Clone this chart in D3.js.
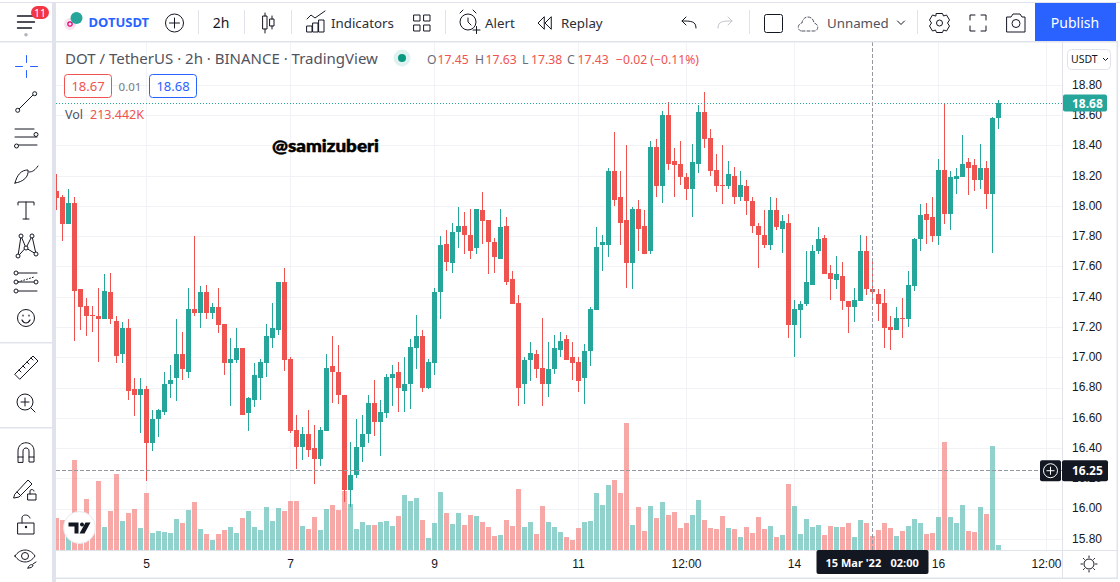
<!DOCTYPE html>
<html lang="en">
<head>
<meta charset="utf-8">
<title>DOTUSDT 2h</title>
<script src="https://cdn.jsdelivr.net/npm/d3@7/dist/d3.min.js"></script>
<style>
  html, body { margin: 0; padding: 0; background: #fff; overflow: hidden; }
  svg { display: block; font-family: "Noto Sans", "Open Sans", sans-serif; }
</style>
</head>
<body>
<svg id="chart" width="1120" height="582" viewBox="0 0 1120 582"></svg>
<script>
// DOT / TetherUS, 2h candles, BINANCE. One entry per candle.
const opens = [18.10,18.06,17.88,18.02,17.45,17.34,17.28,17.27,17.25,17.43,17.24,17.02,17.19,16.79,16.75,16.79,16.43,16.59,16.64,16.82,
16.86,17.02,16.90,17.32,17.29,17.43,17.29,17.33,17.22,16.96,16.98,17.06,16.63,16.72,16.86,16.96,17.13,17.18,17.50,16.99,
16.52,16.41,16.49,16.40,16.33,16.51,16.94,16.90,16.75,16.12,16.22,16.41,16.49,16.70,16.57,16.63,16.86,16.90,16.78,16.82,
17.06,17.14,16.80,16.96,17.43,17.75,17.62,17.83,17.87,17.81,17.72,17.97,17.91,17.76,17.65,17.87,17.52,17.36,16.82,16.98,
17.02,16.93,16.82,16.92,17.05,17.12,17.00,16.97,16.86,17.04,17.31,17.74,17.74,18.23,18.06,17.91,17.62,17.98,17.87,17.70,
18.39,18.13,18.60,18.30,18.28,18.19,18.11,18.28,18.62,18.45,18.24,18.14,18.13,18.20,18.06,18.13,18.03,17.87,17.81,17.74,
17.97,17.85,17.89,17.21,17.31,17.35,17.48,17.70,17.79,17.56,17.51,17.54,17.37,17.33,17.37,17.70,17.45,17.42,17.36,17.20,
17.18,17.26,17.25,17.47,17.78,17.95,17.93,17.80,18.24,17.95,18.18,18.19,18.29,18.27,18.17,18.25,18.08,18.58];
const highs = [18.21,18.07,18.11,18.06,17.45,17.39,17.34,17.46,17.55,17.56,17.27,17.23,17.25,16.86,16.86,16.81,16.65,16.66,16.90,16.95,
17.25,17.17,17.46,17.80,17.47,17.48,17.36,17.46,17.22,17.13,17.19,17.06,16.74,16.96,16.99,17.22,17.36,17.50,17.59,17.00,
16.62,16.54,16.65,16.55,16.54,17.02,17.14,17.08,16.75,16.44,16.59,16.62,16.75,16.85,16.72,16.89,16.95,16.97,17.00,17.12,
17.28,17.18,16.99,17.46,17.80,17.84,17.89,17.99,17.96,17.98,17.98,18.09,17.91,17.79,17.98,17.93,17.57,17.41,17.00,17.10,
17.05,17.26,17.10,17.15,17.17,17.15,17.10,17.00,17.09,17.33,17.86,17.81,18.25,18.49,18.23,18.40,17.99,18.04,17.97,18.43,
18.44,18.63,18.69,18.38,18.43,18.22,18.41,18.67,18.75,18.51,18.34,18.40,18.30,18.26,18.23,18.17,18.06,17.89,17.97,18.06,
18.05,17.94,17.95,17.38,17.37,17.70,17.74,17.86,17.81,17.61,17.67,17.63,17.37,17.46,17.81,17.80,17.63,17.45,17.45,17.27,
17.33,17.39,17.57,17.79,18.01,18.02,18.06,18.31,18.68,18.23,18.25,18.47,18.32,18.31,18.41,18.30,18.59,18.70];
const lows = [17.97,17.77,17.88,17.11,17.18,17.14,17.17,16.97,17.25,17.22,16.96,16.96,16.72,16.61,16.50,16.18,16.38,16.47,16.62,16.73,
16.71,16.85,16.86,17.27,17.19,17.25,17.25,17.16,16.88,16.68,16.96,16.62,16.51,16.67,16.72,16.87,17.06,17.15,16.91,16.50,
16.26,16.32,16.34,16.16,16.28,16.51,16.70,16.69,16.04,16.01,16.20,16.31,16.43,16.48,16.35,16.60,16.68,16.64,16.64,16.66,
16.92,16.77,16.79,16.88,17.25,17.57,17.56,17.72,17.68,17.65,17.68,17.75,17.55,17.56,17.65,17.48,17.35,16.68,16.69,16.84,
16.86,16.68,16.74,16.89,17.00,16.98,16.85,16.77,16.69,16.94,17.31,17.57,17.66,18.00,17.74,17.46,17.45,17.70,17.68,17.68,
18.06,18.02,18.24,18.06,18.14,18.04,17.93,18.22,18.38,18.20,18.09,18.01,18.11,18.01,18.03,17.94,17.82,17.59,17.72,17.71,
17.84,17.69,17.13,17.00,17.13,17.34,17.48,17.68,17.55,17.38,17.45,17.31,17.16,17.23,17.37,17.41,17.38,17.24,17.06,17.05,
17.18,17.13,17.20,17.44,17.70,17.75,17.76,17.74,17.88,17.84,18.08,18.19,18.07,18.10,18.11,17.98,17.69,18.51];
const closes = [18.05,17.88,18.02,17.44,17.33,17.27,17.27,17.25,17.44,17.25,17.01,17.19,16.78,16.75,16.79,16.43,16.59,16.65,16.82,16.85,
17.02,16.92,17.32,17.29,17.43,17.29,17.33,17.21,16.96,16.99,17.06,16.62,16.73,16.88,16.97,17.14,17.19,17.50,16.98,16.51,
16.41,16.49,16.39,16.33,16.52,16.93,16.90,16.75,16.12,16.22,16.41,16.49,16.70,16.57,16.64,16.87,16.89,16.80,16.82,17.07,
17.14,16.80,16.97,17.43,17.74,17.63,17.83,17.87,17.81,17.70,17.98,17.90,17.76,17.66,17.86,17.50,17.35,16.80,16.98,17.03,
16.92,16.82,16.92,17.06,17.11,16.98,16.96,16.84,17.04,17.32,17.73,17.76,18.23,18.04,17.89,17.62,17.98,17.85,17.68,18.39,
18.13,18.60,18.28,18.27,18.19,18.11,18.29,18.62,18.44,18.23,18.13,18.13,18.21,18.06,18.14,18.03,17.87,17.81,17.74,17.97,
17.86,17.90,17.21,17.32,17.35,17.50,17.70,17.78,17.55,17.52,17.55,17.37,17.33,17.38,17.70,17.45,17.43,17.35,17.19,17.18,
17.26,17.25,17.48,17.78,17.94,17.91,17.80,18.24,17.95,18.19,18.20,18.28,18.25,18.17,18.25,18.08,18.58,18.68];
// Traded volume in thousands of DOT.
const volumes = [488,457,229,1372,407,778,330,1052,351,595,1159,442,564,625,335,869,259,290,274,259,
473,412,610,732,320,244,152,244,305,351,259,488,595,351,305,656,442,640,595,747,
747,366,320,503,305,625,686,610,900,701,320,427,381,381,427,442,366,518,839,747,
793,457,183,412,884,564,396,564,381,534,518,427,351,213,229,457,366,930,351,427,
244,671,427,351,274,198,152,335,427,442,869,686,991,1067,869,1936,381,656,290,671,
488,732,534,579,335,412,534,762,457,335,320,518,335,320,198,351,259,503,320,366,
198,229,1006,671,244,473,351,381,229,366,351,351,412,198,457,412,213.442,305,412,335,
213,290,366,473,412,244,259,503,1647,503,412,686,290,274,656,549,1586,76];

// Time axis: candle index of each labelled tick.
const timeTickIndex = [15, 39, 63, 87, 105, 123, 147, 165];
const timeTickLabels = ["5", "7", "9", "11", "12:00", "14", "16", "12:00"];
const priceTicks = [15.8,16.0,16.2,16.4,16.6,16.8,17.0,17.2,17.4,17.6,17.8,18.0,18.2,18.4,18.6,18.8];

const lastPrice = 18.68;
const cursorPrice = 16.25;
const cursorIndex = 136;
const cursorLabel = "15 Mar '22";
const cursorTime = "02:00";
const legendValues = [["O", "17.45"], ["H", "17.63"], ["L", "17.38"], ["C", "17.43"]];
const legendChange = "\u22120.02 (\u22120.11%)";
const bidPrice = "18.67", spread = "0.01", askPrice = "18.68";
const volumeLabel = "213.442K";

const RED = "#ef5350", GREEN = "#26a69a", INK = "#131722", RULE = "#e0e3eb", GRID = "#f1f2f5", GREY = "#787b86", BLUE = "#2962ff";

const svg = d3.select("#chart");
const paneLeft = 56, paneRight = 1062, paneTop = 42, paneBottom = 550;

const x = d3.scaleLinear().domain([0, 1]).range([56.5, 62.5]);
const y = d3.scaleLinear().domain([15.8, 18.8]).range([538.8, 84.9]);
const yVol = d3.scaleLinear().domain([0, 1936]).range([550, 423]);

const candles = opens.map((o, i) => ({ i, o, h: highs[i], l: lows[i], c: closes[i], v: volumes[i], up: closes[i] >= o }));

svg.append("defs").append("clipPath").attr("id", "pane")
  .append("rect").attr("x", paneLeft).attr("y", paneTop).attr("width", paneRight - paneLeft).attr("height", paneBottom - paneTop);

const pane = svg.append("g").attr("clip-path", "url(#pane)");

// Grid
const crisp = v => Math.round(v) + 0.5;
pane.append("g").selectAll("line").data(priceTicks).join("line")
  .attr("x1", paneLeft).attr("x2", paneRight)
  .attr("y1", d => crisp(y(d))).attr("y2", d => crisp(y(d)))
  .attr("stroke", GRID);
pane.append("g").selectAll("line").data(timeTickIndex).join("line")
  .attr("x1", d => x(d)).attr("x2", d => x(d))
  .attr("y1", paneTop).attr("y2", paneBottom)
  .attr("stroke", GRID);

// Volume columns
pane.append("g").selectAll("rect").data(candles).join("rect")
  .attr("x", d => x(d.i) - 2.5).attr("width", 5)
  .attr("y", d => Math.round(yVol(d.v))).attr("height", d => paneBottom - Math.round(yVol(d.v)))
  .attr("fill", d => d.up ? GREEN : RED).attr("fill-opacity", 0.5);

// Candles
pane.append("g").selectAll("line").data(candles).join("line")
  .attr("x1", d => x(d.i)).attr("x2", d => x(d.i))
  .attr("y1", d => Math.round(y(d.h))).attr("y2", d => Math.round(y(d.l)))
  .attr("stroke", d => d.up ? GREEN : RED);
pane.append("g").selectAll("rect").data(candles).join("rect")
  .attr("x", d => x(d.i) - 2.5).attr("width", 5)
  .attr("y", d => Math.round(y(Math.max(d.o, d.c))))
  .attr("height", d => Math.max(1, Math.round(y(Math.min(d.o, d.c))) - Math.round(y(Math.max(d.o, d.c)))))
  .attr("fill", d => d.up ? GREEN : RED);

// Last price and cursor lines
pane.append("line").attr("x1", paneLeft).attr("x2", paneRight + 1)
  .attr("y1", crisp(y(lastPrice))).attr("y2", crisp(y(lastPrice)))
  .attr("stroke", GREEN).attr("stroke-dasharray", "1 2");
pane.append("line").attr("x1", paneLeft).attr("x2", paneRight)
  .attr("y1", Math.floor(y(cursorPrice)) + 0.5).attr("y2", Math.floor(y(cursorPrice)) + 0.5)
  .attr("stroke", "#9598a1").attr("stroke-dasharray", "4 2");
pane.append("line").attr("x1", x(cursorIndex)).attr("x2", x(cursorIndex))
  .attr("y1", paneTop).attr("y2", paneBottom)
  .attr("stroke", "#9598a1").attr("stroke-dasharray", "4 2");

// Vendor badge in the pane corner
const badge = svg.append("g").attr("transform", "translate(79.5,527.5)");
badge.append("circle").attr("r", 16).attr("fill", "#fff").attr("stroke", "#e8e9ee");
badge.append("path").attr("fill", INK)
  .attr("d", "M-11,-5H-1V6H-5V-1H-11Z M2.5,-5 A2,2 0 1 1 2.49,-5Z M6,-5H11L5,6H0Z");

// Frame panels
svg.append("rect").attr("x", 0).attr("y", 2).attr("width", 1120).attr("height", 1).attr("fill", RULE);
svg.append("rect").attr("x", 52).attr("y", 3).attr("width", 4).attr("height", 579).attr("fill", RULE);
svg.append("rect").attr("x", 56).attr("y", 577.5).attr("width", 1062).attr("height", 1.5).attr("fill", RULE);
svg.append("rect").attr("x", 1116.5).attr("y", 41).attr("width", 1.5).attr("height", 538).attr("fill", RULE);
svg.append("rect").attr("x", 56).attr("y", 41).attr("width", 1061).attr("height", 1.5).attr("fill", RULE);
svg.append("rect").attr("x", 0).attr("y", 41).attr("width", 52).attr("height", 1.5).attr("fill", RULE);
svg.append("rect").attr("x", 1062).attr("y", 42).attr("width", 1).attr("height", 536).attr("fill", RULE);
svg.append("rect").attr("x", 56).attr("y", 550).attr("width", 1061).attr("height", 1).attr("fill", RULE);
svg.append("rect").attr("x", 0).attr("y", 342).attr("width", 52).attr("height", 1.5).attr("fill", RULE);
svg.append("rect").attr("x", 0).attr("y", 427).attr("width", 52).attr("height", 1.5).attr("fill", RULE);

const text = (g, str, px, py, size, fill, extra = {}) => {
  const t = g.append("text").attr("x", px).attr("y", py).attr("font-size", size).attr("fill", fill).text(str);
  Object.entries(extra).forEach(([k, v]) => t.attr(k, v));
  return t;
};

// Axes built from the scales
const timeAxis = d3.axisBottom(x).offset(0).tickValues(timeTickIndex).tickFormat((d, i) => timeTickLabels[i]).tickSize(0).tickPadding(0);
const timeG = svg.append("g").attr("transform", "translate(0,559)").call(timeAxis);
timeG.select(".domain").remove();
timeG.selectAll("text").attr("font-size", 12).attr("fill", INK).attr("font-family", "inherit");

const priceAxis = d3.axisRight(y).offset(0).tickValues(priceTicks).tickFormat(d3.format(".2f")).tickSize(0).tickPadding(0);
const priceG = svg.append("g").attr("transform", "translate(1072,0)").call(priceAxis);
priceG.select(".domain").remove();
priceG.selectAll("text").attr("font-size", 12).attr("fill", INK).attr("font-family", "inherit");

// Price tags
svg.append("rect").attr("x", 1063).attr("y", y(lastPrice) - 8.5).attr("width", 44).attr("height", 17).attr("rx", 2).attr("fill", GREEN);
text(svg, lastPrice.toFixed(2), 1072, y(lastPrice) + 4.5, 12, "#fff", { "font-weight": 700 });
svg.append("rect").attr("x", 1040).attr("y", y(cursorPrice) - 10.5).attr("width", 21).attr("height", 21).attr("rx", 2).attr("fill", INK);
svg.append("circle").attr("cx", 1050.5).attr("cy", y(cursorPrice)).attr("r", 7).attr("fill", "none").attr("stroke", "#fff");
svg.append("path").attr("d", `M1046.5,${y(cursorPrice)}h8M1050.5,${y(cursorPrice) - 4}v8`).attr("stroke", "#fff");
svg.append("rect").attr("x", 1062).attr("y", y(cursorPrice) - 10.5).attr("width", 46).attr("height", 21).attr("rx", 2).attr("fill", INK);
text(svg, cursorPrice.toFixed(2), 1072, y(cursorPrice) + 4.5, 12, "#fff", { "font-weight": 700 });

const tagX = x(cursorIndex);
svg.append("rect").attr("x", tagX - 56).attr("y", 550).attr("width", 112).attr("height", 24).attr("rx", 2).attr("fill", INK);
text(svg, cursorLabel, tagX - 47, 566.5, 11, "#fff", { "font-weight": 700 });
text(svg, cursorTime, tagX + 18, 566.5, 11, "#fff", { "font-weight": 700 });

// USDT unit selector
svg.append("rect").attr("x", 1067.5).attr("y", 49.5).attr("width", 43).attr("height", 20).attr("rx", 4).attr("fill", "#fff").attr("stroke", RULE);
text(svg, "USDT", 1071, 63, 10.5, INK);
svg.append("path").attr("d", "M1103,58l2.5,2.5l2.5,-2.5").attr("fill", "none").attr("stroke", INK);

// Series legend
text(svg, "DOT / TetherUS \u00B7 2h \u00B7 BINANCE \u00B7 TradingView", 65, 63.5, 15, "#50535e");
svg.append("circle").attr("cx", 402).attr("cy", 58).attr("r", 8.5).attr("fill", "#e0f2f0");
svg.append("circle").attr("cx", 402).attr("cy", 58).attr("r", 4).attr("fill", "#089981");
const legendPos = [[427, 437.5], [475, 485.5], [522, 531], [567, 577.5]];
legendValues.forEach(([k, v], i) => {
  text(svg, k, legendPos[i][0], 64, 12.2, "#6a6d78");
  text(svg, v, legendPos[i][1], 64, 12.2, RED);
});
text(svg, legendChange, 616, 64, 12.2, RED);

svg.append("rect").attr("x", 64.5).attr("y", 74.5).attr("width", 47).attr("height", 23).attr("rx", 3).attr("fill", "#fff").attr("stroke", RED);
text(svg, bidPrice, 88, 90.7, 13, RED, { "text-anchor": "middle" });
text(svg, spread, 130, 90.5, 11.5, GREY, { "text-anchor": "middle" });
svg.append("rect").attr("x", 149.5).attr("y", 74.5).attr("width", 47).attr("height", 23).attr("rx", 3).attr("fill", "#fff").attr("stroke", BLUE);
text(svg, askPrice, 173, 90.7, 13, BLUE, { "text-anchor": "middle" });

text(svg, "Vol", 65, 118.5, 12.5, "#50535e");
text(svg, volumeLabel, 90, 118.5, 12.5, RED);

// Handle written over the chart
text(svg, "@samizuberi", 272, 151.5, 17, "#000", { "font-weight": 900, "font-family": "Lato, sans-serif", stroke: "#000", "stroke-width": 0.5, "textLength": 107, "lengthAdjust": "spacingAndGlyphs" });

// Top toolbar
const icon = (cx, cy, d, opts = {}) => svg.append("path")
  .attr("transform", `translate(${cx},${cy})`).attr("d", d)
  .attr("fill", opts.fill || "none").attr("stroke", opts.stroke === undefined ? INK : opts.stroke)
  .attr("stroke-width", opts.width || 1).attr("stroke-linecap", "round").attr("stroke-linejoin", "round");

[198, 244, 291, 445, 749, 917].forEach(px =>
  svg.append("rect").attr("x", px).attr("y", 10).attr("width", 1).attr("height", 24).attr("fill", RULE));

// Menu button with its counter
icon(26, 22, "M-8.5,-6H8.5M-8.5,0H8.5M-8.5,6H5.5", { width: 1.4 });
svg.append("circle").attr("cx", 26).attr("cy", 34.7).attr("r", 1.8).attr("fill", "#b2b5be");
svg.append("rect").attr("x", 31).attr("y", 6).attr("width", 18).attr("height", 13).attr("rx", 6.5).attr("fill", "#f23645");
text(svg, "11", 40, 16.5, 10.5, "#fff", { "text-anchor": "middle" });

// Symbol logo
svg.append("circle").attr("cx", 70).attr("cy", 24).attr("r", 6).attr("fill", "#f6e3ee");
svg.append("circle").attr("cx", 70).attr("cy", 24).attr("r", 2.2).attr("fill", "none").attr("stroke", "#e6007a").attr("stroke-width", 1.2);
svg.append("circle").attr("cx", 76.5).attr("cy", 18).attr("r", 6).attr("fill", "#26a69a");
text(svg, "DOTUSDT", 88.5, 27, 13, BLUE, { "font-weight": 700 });
svg.append("circle").attr("cx", 174.5).attr("cy", 23).attr("r", 9).attr("fill", "none").attr("stroke", INK);
icon(174.5, 23, "M-5,0H5M0,-5V5");
text(svg, "2h", 221, 27.5, 14, INK, { "text-anchor": "middle" });

// Candle style button
icon(268, 23, "M-5,-7H-1V6H-5Z M-3,-10V-7 M-3,6V10 M2,-4H6V3H2Z M4,-7V-4 M4,3V6");
// Indicators button
icon(316, 23, "M-9,-4L-5,-8L-1,-5L9,-12 M-9,3H-4V9H-9Z M-3,0H2V9H-3Z M3,-3H8V9H3Z");
text(svg, "Indicators", 331, 27.5, 13.3, "#2a2e39");
icon(422, 23, "M-8,-8H-2V-2H-8Z M2,-8H8V-2H2Z M-8,2H-2V8H-8Z M2,2H8V8H2Z");
// Alert button
svg.append("circle").attr("cx", 468).attr("cy", 22).attr("r", 8).attr("fill", "none").attr("stroke", INK);
icon(468, 22, "M0,-4V0L3,3 M-8,-9L-5,-12 M8,-9L5,-12 M5,8H12M8.5,4.5V11.5");
text(svg, "Alert", 485, 27.5, 13.3, "#2a2e39");
// Replay button
icon(545, 23, "M-1,-6L-7,0L-1,6Z M6,-6L0,0L6,6Z");
text(svg, "Replay", 561, 27.5, 13.3, "#2a2e39");
// Undo and redo
icon(688, 23, "M8,5C8,-2 3,-2 -6,-2M-2,-6L-6,-2L-2,2");
icon(726, 23, "M-8,5C-8,-2 -3,-2 6,-2M2,-6L6,-2L2,2", { stroke: "#c1c4cd" });
// Layout box and layout name
svg.append("rect").attr("x", 764.5).attr("y", 14.5).attr("width", 18).attr("height", 18).attr("rx", 2).attr("fill", "none").attr("stroke", INK);
icon(808, 23, "M-6,8H6C11,8 11,1 6,0C5,-8 -5,-8 -6,0C-11,1 -11,8 -6,8Z", { stroke: "#50535e" }).attr("stroke-dasharray", "3 2");
text(svg, "Unnamed", 827, 27.5, 13.3, "#50535e");
icon(901, 23, "M-3.5,-2L0,1.5L3.5,-2");
// Settings, fullscreen, snapshot
svg.append("circle").attr("cx", 939.5).attr("cy", 23).attr("r", 3).attr("fill", "none").attr("stroke", INK);
icon(939.5, 23, "M-3,-9.5H3L4,-7L7,-8L10,-3L8,0L10,3L7,8L4,7L3,9.5H-3L-4,7L-7,8L-10,3L-8,0L-10,-3L-7,-8L-4,-7Z");
icon(978, 23, "M-8,-3V-8H-3M3,-8H8V-3M8,3V8H3M-3,8H-8V3");
icon(1016, 23, "M-9,-6H-5L-3,-9H4L6,-6H9V9H-9Z");
svg.append("circle").attr("cx", 1016).attr("cy", 23.5).attr("r", 4).attr("fill", "none").attr("stroke", INK);
svg.append("rect").attr("x", 1035).attr("y", 3).attr("width", 81).attr("height", 38).attr("fill", BLUE);
text(svg, "Publish", 1075, 27.5, 14, "#fff", { "text-anchor": "middle" });

// Left drawing toolbar
icon(26.5, 66.5, "M0,-11V-4M0,4V11M-11,0H-4M4,0H11", { stroke: BLUE });
icon(26, 102, "M-7,7L7,-7");
svg.append("circle").attr("cx", 17.7).attr("cy", 110.3).attr("r", 2).attr("fill", "#fff").attr("stroke", INK);
svg.append("circle").attr("cx", 34.7).attr("cy", 93.7).attr("r", 2).attr("fill", "#fff").attr("stroke", INK);
icon(26, 137, "M-11,-8H8M-11,0H11M-8,8H11");
svg.append("circle").attr("cx", 36).attr("cy", 134.5).attr("r", 2).attr("fill", "#fff").attr("stroke", INK);
svg.append("circle").attr("cx", 16.5).attr("cy", 146).attr("r", 2).attr("fill", "#fff").attr("stroke", INK);
icon(26, 175, "M-11,8C-9,0 -5,-5 2,-5C3,2 -3,7 -11,8ZM3,-3C7,-3 9,-5 12,-9");
// Text tool, drawn as a thin serif T
icon(26, 210, "M-8,-5V-8H8V-5M0,-8V9M-3,9H3");
icon(26, 245, "M-8,11L-5,-9L0,3L6,-9L10,9L0,3Z");
[[18, 256], [21, 236], [26, 248], [32, 236], [36, 254]].forEach(([a, b]) =>
  svg.append("circle").attr("cx", a).attr("cy", b).attr("r", 2).attr("fill", "#fff").attr("stroke", INK));
icon(26, 282, "M-8,-9H11M-8,0H11M-8,9H11");
icon(26, 282, "M-8,0L8,-5").attr("stroke-dasharray", "1 2");
[[16, 273], [16, 282], [16, 291], [36, 282]].forEach(([a, b]) =>
  svg.append("circle").attr("cx", a).attr("cy", b).attr("r", 2).attr("fill", "#fff").attr("stroke", INK));
svg.append("circle").attr("cx", 26).attr("cy", 318).attr("r", 8.5).attr("fill", "none").attr("stroke", INK);
icon(26, 318, "M-4,2C-2,6 2,6 4,2M-3,-3V-2M3,-3V-2", { width: 1.2 });
icon(26, 367, "M-11,7L7,-11L12,-6L-6,12Z M-7,3L-5,5 M-3,-1L-1,1 M1,-5L3,-3 M5,-9L7,-7");
svg.append("circle").attr("cx", 25).attr("cy", 402).attr("r", 8).attr("fill", "none").attr("stroke", INK);
icon(25, 402, "M-4,0H4M0,-4V4M6,6L10,10");
icon(26, 452, "M-8,10V-1C-8,-12 8,-12 8,-1V10H3V-1C3,-5 -3,-5 -3,-1V10Z M-8,5H-3M3,5H8");
icon(24, 488, "M-9,6L4,-8L8,-4L-5,9L-10,10Z M-7,4L-3,8");
icon(32, 494, "M-4,0H4V6H-4Z M-2,0V-3C-2,-5 2,-5 2,-3");
icon(26, 525, "M-8,-2H8V9H-8Z M-4,-2V-7C-4,-11 3,-11 4,-7");
svg.append("circle").attr("cx", 26).attr("cy", 527).attr("r", 1.2).attr("fill", INK);
icon(25, 556, "M-10,0C-5,-8 5,-8 10,0C5,8 -5,8 -10,0Z");
svg.append("circle").attr("cx", 25).attr("cy", 556).attr("r", 3.5).attr("fill", "none").attr("stroke", INK);
icon(32, 566, "M-4,2C-3,-1 -1,-2 1,-1C1,1 -1,2 -4,2ZM1,-2L4,-4");

// Sun icon beside the time axis
svg.append("circle").attr("cx", 1089).attr("cy", 564).attr("r", 5).attr("fill", "none").attr("stroke", INK);
icon(1089, 564, "M0,-8V-6.5M0,8V6.5M-8,0H-6.5M8,0H6.5M-5.6,-5.6L-4.6,-4.6M5.6,5.6L4.6,4.6M-5.6,5.6L-4.6,4.6M5.6,-5.6L4.6,-4.6");
</script>
</body>
</html>
